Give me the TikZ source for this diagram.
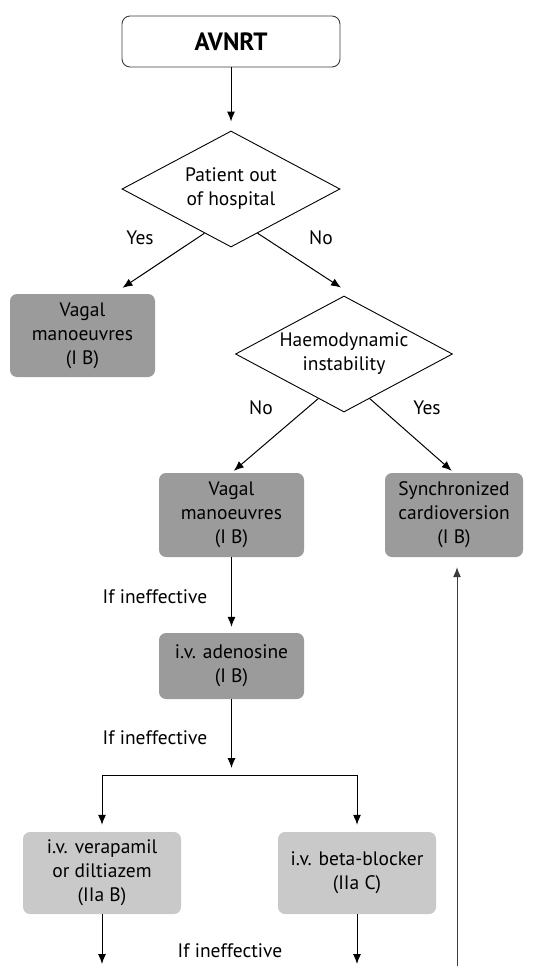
\documentclass[tikz,border=0pt]{standalone}
\usepackage{fontspec}
\setmainfont{PT Sans}
\usetikzlibrary{positioning}
\usetikzlibrary{shapes.geometric}
\usetikzlibrary{arrows.meta}
\definecolor{mydarkgray}{RGB}{155, 155, 155}
\definecolor{mylightgray}{RGB}{201, 201, 201}
\definecolor{myline}{RGB}{60, 60, 60}

\begin{document}
\begin{tikzpicture}[
            x=1pt, y=1pt,
            box/.style={
                rectangle,
                rounded corners=7pt,
                fill=#1,
                align=center,
                inner sep=0pt,
                minimum width=145pt,
                minimum height=84pt,
                font=\fontsize{19.5}{24}\selectfont
            },
            startbox/.style={
                rectangle,
                rounded corners=8pt,
                draw=myline,
                line width=0.9pt,
                minimum width=218pt,
                minimum height=51pt,
                font=\fontsize{25}{30}\selectfont\bfseries
            },
            decision/.style={
                diamond,
                draw,
                line width=0.9pt,
                inner sep=0pt,
                aspect=1.88,
                minimum width=218pt,
                minimum height=116pt,
                align=center,
                font=\fontsize{19.5}{24}\selectfont
            },
            label/.style={font=\fontsize{19.5}{24}\selectfont},
            arrow/.style={-{Latex[length=10pt,width=8pt]}, line width=1pt}
        ]

            \useasboundingbox (0,0) rectangle (536,-966);

            % Nodes
            \node[startbox] (avnrt) at (231,-41.5) {AVNRT};
            \node[decision] (outside) at (231,-189) {Patient out\\of hospital};
            \node[box=mydarkgray, minimum height=83pt] (vagalout) at (82.5,-335.5) {Vagal\\manoeuvres\\(I B)};
            \node[decision, minimum width=217pt] (haemo) at (344,-354) {Haemodynamic\\instability};
            \node[box=mydarkgray] (vagalin) at (231.5,-515) {Vagal\\manoeuvres\\(I B)};
            \node[box=mydarkgray, minimum width=138pt] (cardio) at (454,-515) {Synchronized\\cardioversion\\(I B)};
            \node[box=mydarkgray, minimum height=66pt] (adeno) at (231.5,-666) {i.v. adenosine\\(I B)};
            \node[box=mylightgray, minimum width=158pt, minimum height=82pt] (verap) at (102,-873) {i.v. verapamil\\or diltiazem\\(IIa B)};
            \node[box=mylightgray, minimum width=158pt, minimum height=82pt] (beta) at (357,-873) {i.v. beta-blocker\\(IIa C)};

            % Labels
            \node[label] (yesout) at (140,-238) {Yes};
            \node[label] (noout) at (321,-238) {No};
            \node[label] (nohaemo) at (261,-408) {No};
            \node[label] (yeshaemo) at (427,-408) {Yes};
            \node[label] (ineff1) at (155,-597) {If ineffective};
            \node[label] (ineff2) at (155,-738) {If ineffective};
            \node[label] (ineff3) at (230,-951) {If ineffective};

            % Coordinates
            \coordinate (split) at (231.5,-775);
            \coordinate (verapend) at (102,-964);
            \coordinate (betaend) at (357,-964);
            \coordinate (loopin) at (457,-966);

            % Arrows
            \draw[arrow, shorten >=9pt] (avnrt) -- (outside);
            \draw[arrow] (outside.-121) -- ([xshift=40pt,yshift=6pt]vagalout.north);
            \draw[arrow] (outside.-59) -- ([xshift=-3pt,yshift=8pt]haemo.north);
            \draw[arrow, shorten >=3pt] (haemo.-120) -- (vagalin.north);
            \draw[arrow, shorten >=3pt] (haemo.-60) -- (cardio.north);
            \draw[arrow, shorten >=6pt] (vagalin) -- (adeno);
            \draw[arrow, shorten >=7pt] (adeno) -- (split);
            \draw[arrow, shorten >=7pt] (split) -| (verap.north);
            \draw[arrow, shorten >=7pt] (split) -| (beta.north);
            \draw[arrow] (verap) -- (verapend);
            \draw[arrow] (beta) -- (betaend);
            \draw[arrow, draw=myline, shorten >=10pt] (loopin) -- (loopin |- cardio.south);
        \end{tikzpicture}
\end{document}
